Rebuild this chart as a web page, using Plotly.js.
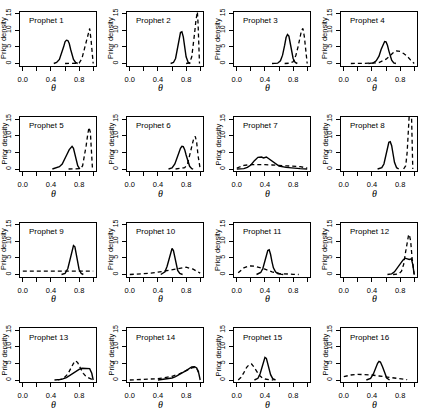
<!DOCTYPE html>
<html><head><meta charset="utf-8">
<script src="https://cdn.plot.ly/plotly-3.0.1.min.js"></script>
<style>html,body{margin:0;padding:0;background:#fff}#chart{width:422px;height:409px}</style>
</head><body><div id="chart"></div>
<script>
const prophetLabels = ["Prophet 1","Prophet 2","Prophet 3","Prophet 4","Prophet 5","Prophet 6","Prophet 7","Prophet 8",
  "Prophet 9","Prophet 10","Prophet 11","Prophet 12","Prophet 13","Prophet 14","Prophet 15","Prophet 16"];
const xTickVals = [0, 0.2, 0.4, 0.6, 0.8, 1.0];
const xTickText = ["0.0", "", "0.4", "", "0.8", ""];
const yTickVals = [0, 5, 10, 15];
const yTickText = ["0", "5", "10", "15"];
const xAxisLabel = "θ";
const yAxisLabel = "Prior density";

const solidX = [
  [0.44,0.48,0.52,0.55,0.58,0.60,0.62,0.64,0.66,0.68,0.70,0.72,0.75,0.78],
  [0.58,0.62,0.65,0.68,0.70,0.72,0.74,0.76,0.78,0.80,0.83,0.86],
  [0.50,0.58,0.62,0.65,0.68,0.70,0.72,0.74,0.76,0.78,0.80,0.83,0.86],
  [0.35,0.42,0.46,0.50,0.53,0.56,0.58,0.60,0.62,0.64,0.66,0.68,0.71,0.74],
  [0.42,0.48,0.52,0.56,0.60,0.63,0.66,0.68,0.70,0.72,0.74,0.76,0.78,0.81],
  [0.55,0.60,0.64,0.67,0.70,0.72,0.74,0.76,0.78,0.80,0.82,0.85,0.88,0.90],
  [0.0,0.10,0.15,0.20,0.25,0.30,0.35,0.38,0.42,0.46,0.50,0.55,0.60,0.70,0.80,0.90,1.0],
  [0.48,0.54,0.57,0.60,0.62,0.64,0.66,0.68,0.70,0.72,0.75,0.78],
  [0.55,0.60,0.64,0.67,0.70,0.72,0.74,0.76,0.78,0.80,0.83,0.86],
  [0.44,0.50,0.53,0.56,0.58,0.60,0.62,0.64,0.66,0.68,0.71,0.75],
  [0.28,0.34,0.37,0.40,0.42,0.44,0.46,0.48,0.50,0.52,0.55,0.58,0.62,0.66],
  [0.62,0.68,0.72,0.76,0.80,0.84,0.87,0.90,0.93,0.96,0.98,1.0],
  [0.45,0.55,0.62,0.68,0.72,0.76,0.80,0.84,0.88,0.92,0.95,0.98,1.0],
  [0.40,0.50,0.60,0.65,0.70,0.75,0.80,0.85,0.88,0.92,0.95,0.98,1.0],
  [0.25,0.30,0.33,0.36,0.38,0.40,0.42,0.44,0.46,0.48,0.51,0.55],
  [0.32,0.38,0.42,0.45,0.48,0.50,0.52,0.55,0.58,0.61,0.65]
];
const solidY = [
  [0,0.3,1.2,2.8,5.0,6.5,7.0,6.9,6.0,4.2,2.5,1.2,0.3,0],
  [0,0.3,1.5,4.5,7.5,9.3,9.5,8,5,2,0.3,0],
  [0,0.1,0.8,2.5,5.5,7.8,8.7,8.2,6,3.5,1.5,0.3,0],
  [0,0.2,0.8,2.2,4.2,6.0,6.6,6.5,5.5,3.8,2.2,1.0,0.2,0],
  [0,0.3,0.7,1.5,3,4.5,5.8,6.5,6.8,6.2,4.5,2.5,1.0,0],
  [0,0.3,1.5,3,5,6.2,6.8,6.7,5.8,4.2,2.5,0.8,0.1,0],
  [0,0.1,0.5,1.2,2.5,3.5,3.6,3.3,3.6,3.0,2.2,1.5,0.9,0.5,0.25,0.1,0],
  [0,0.4,1.5,4,6.5,8,8.2,7,4.5,2,0.4,0],
  [0,0.3,1.8,4.5,7.5,8.7,8.3,6.2,3.5,1.5,0.3,0],
  [0,0.8,2.5,5,7,7.8,7.2,5,2.8,1.2,0.3,0],
  [0,0.6,1.8,4,6,7.2,7.4,6,3.8,2,0.8,0.3,0.1,0],
  [0,0.2,0.8,2,3.2,4.3,4.9,4.6,4.5,4.7,3.0,0],
  [0,0.2,0.7,1.5,2.2,2.8,3.2,3.5,3.5,3.5,3.4,2,0],
  [0,0.2,0.6,1.0,1.5,2.2,2.8,3.5,3.9,4.0,3.6,2,0],
  [0,0.5,1.8,4,5.8,6.8,6.5,5,3.2,1.6,0.4,0],
  [0,0.5,1.8,3.5,5,5.6,5.4,4,2,0.6,0]
];
const dashedX = [
  [0.60,0.70,0.80,0.84,0.87,0.90,0.93,0.95,0.97,0.99,1.0],
  [0.80,0.85,0.88,0.90,0.92,0.94,0.95,0.96,0.97,0.98,0.99],
  [0.68,0.75,0.80,0.84,0.87,0.90,0.92,0.94,0.96,0.98,1.0],
  [0.10,0.20,0.30,0.40,0.50,0.55,0.60,0.65,0.70,0.75,0.80,0.85,0.90,0.95,1.0],
  [0.65,0.75,0.82,0.85,0.88,0.90,0.92,0.94,0.96,0.98,0.99],
  [0.65,0.72,0.78,0.82,0.85,0.88,0.91,0.93,0.95,0.97,0.99,1.0],
  [0.0,0.05,0.10,0.20,0.30,0.40,0.50,0.60,0.70,0.80,0.90,1.0],
  [0.85,0.88,0.90,0.92,0.94,0.96,0.97,0.98],
  [0.0,0.1,0.2,0.3,0.4,0.5,0.6,0.7,0.8,0.9,1.0],
  [0.0,0.1,0.2,0.3,0.4,0.5,0.6,0.7,0.8,0.9,1.0],
  [0.02,0.06,0.10,0.15,0.20,0.25,0.30,0.35,0.40,0.45,0.50,0.60,0.70,0.80,0.88],
  [0.70,0.78,0.82,0.85,0.88,0.90,0.92,0.93,0.95,0.97,0.99,1.0],
  [0.50,0.58,0.64,0.68,0.72,0.75,0.78,0.82,0.86,0.90,0.95,1.0],
  [0.0,0.2,0.4,0.5,0.6,0.7,0.8,0.85,0.9,0.95,1.0],
  [0.02,0.06,0.10,0.14,0.18,0.21,0.24,0.28,0.32,0.36,0.40,0.46,0.52],
  [0.0,0.1,0.2,0.3,0.4,0.5,0.6,0.7,0.8,0.9]
];
const dashedY = [
  [0,0,0.1,1.5,4,6.5,9.5,10.5,7,1.5,0],
  [0,0.2,2,5,9,13,15,15.5,12,5,0],
  [0,0.1,0.5,2.5,5,8,10,10.5,8,4,0],
  [0,0,0.05,0.1,0.3,0.7,1.3,2.2,3.2,3.8,3.6,3.0,2.2,1.0,0],
  [0,0,0.1,1,4,7,10,12.5,11,3,0],
  [0,0.1,0.4,1.5,4,7,9.3,9.8,8,4,1,0],
  [0.3,0.8,1.1,1.3,1.35,1.3,1.2,1.1,1.0,0.9,0.7,0.3],
  [0,1,5,12,20,18,8,0],
  [1,1,1,1,1,1,1,1,1,1,1],
  [0,0.1,0.2,0.4,0.7,1.1,1.6,2.0,2.2,1.6,0.4],
  [0.5,1.3,2.0,2.4,2.6,2.5,2.3,1.9,1.6,1.2,0.8,0.3,0.1,0.05,0],
  [0,0.2,1,3,7,10,11.8,12,10,5,1,0],
  [0,0.5,1.8,3.5,5,5.8,5.2,3.5,2,1,0.4,0],
  [0,0.1,0.4,0.7,1.1,1.8,2.7,3.3,3.8,3.6,1.5],
  [0,0.8,2.2,3.8,4.7,4.8,4.0,2.6,1.4,0.7,0.3,0.1,0],
  [1.0,1.5,1.7,1.7,1.5,1.2,0.9,0.6,0.3,0.1]
];

const W = 422, H = 409;
const sans = "Liberation Sans, Arial, Helvetica, sans-serif";
const traces = [];
const layout = {
  width: W, height: H, margin: {l: 0, r: 0, t: 0, b: 0},
  showlegend: false, paper_bgcolor: "#fff", plot_bgcolor: "#fff",
  annotations: []
};
for (let k = 0; k < 16; k++) {
  const r = Math.floor(k / 4), c = k % 4;
  const left = 20 + 107 * c, right = left + 76;
  const top = 11.5 + 105.5 * r, bottom = top + 54;
  const sfx = k ? String(k + 1) : "";
  layout["xaxis" + sfx] = {
    domain: [left / W, right / W], range: [-0.04, 1.04], anchor: "y" + sfx,
    tickvals: xTickVals, ticktext: xTickText, tickangle: 0,
    ticks: "outside", ticklen: 4, tickwidth: 1, tickcolor: "#000",
    ticklabelstandoff: 2,
    showline: true, mirror: true, linecolor: "#000", linewidth: 1,
    showgrid: false, zeroline: false, fixedrange: true,
    tickfont: {family: sans, size: 7.5, color: "#000"}
  };
  layout["yaxis" + sfx] = {
    domain: [1 - bottom / H, 1 - top / H], range: [-0.6, 15.6], anchor: "x" + sfx,
    tickvals: yTickVals, ticktext: yTickText, tickangle: -90,
    ticks: "outside", ticklen: 4, tickwidth: 1, tickcolor: "#000",
    ticklabelstandoff: 1,
    showline: true, mirror: true, linecolor: "#000", linewidth: 1,
    showgrid: false, zeroline: false, fixedrange: true,
    tickfont: {family: sans, size: 7, color: "#000"}
  };
  traces.push({
    x: solidX[k], y: solidY[k], xaxis: "x" + sfx, yaxis: "y" + sfx,
    type: "scatter", mode: "lines", line: {color: "#000", width: 1.4}, hoverinfo: "skip"
  });
  traces.push({
    x: dashedX[k], y: dashedY[k], xaxis: "x" + sfx, yaxis: "y" + sfx,
    type: "scatter", mode: "lines", line: {color: "#000", width: 1.3, dash: "4px,3px"}, hoverinfo: "skip"
  });
  layout.annotations.push({
    text: prophetLabels[k], xref: "paper", yref: "paper",
    x: (left + 7) / W, y: 1 - (top + 9) / H, xanchor: "left", yanchor: "middle",
    showarrow: false, font: {family: sans, size: 8, color: "#000"}
  });
  layout.annotations.push({
    text: xAxisLabel, xref: "paper", yref: "paper",
    x: (left + 2.8 + 0.44 * 70.4) / W, y: 1 - (bottom + 22) / H, xanchor: "center", yanchor: "middle",
    showarrow: false, font: {family: "Liberation Serif, DejaVu Serif, serif", size: 10, color: "#000", style: "italic"}
  });
  layout.annotations.push({
    text: yAxisLabel, xref: "paper", yref: "paper", textangle: -90,
    x: (left - 16.5) / W, y: 1 - (top + 27) / H, xanchor: "center", yanchor: "middle",
    showarrow: false, font: {family: sans, size: 7.5, color: "#000"}
  });
}
Plotly.newPlot("chart", traces, layout, {staticPlot: true, displayModeBar: false});
</script>
</body></html>
